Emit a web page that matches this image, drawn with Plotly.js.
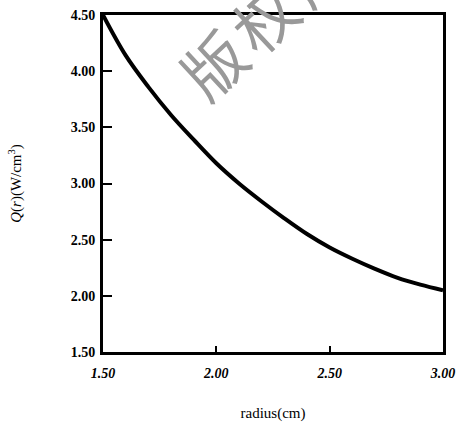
<!DOCTYPE html>
<html>
<head>
<meta charset="utf-8">
<script src="https://cdn.plot.ly/plotly-3.0.1.min.js"></script>
<style>body{margin:0;padding:0;background:#fff;}#chart{width:464px;height:423px;}</style>
</head>
<body>
<div id="chart"></div>
<script>
const radius = [1.50, 1.60, 1.70, 1.80, 1.90, 2.00, 2.10, 2.20, 2.30, 2.40, 2.50, 2.60, 2.70, 2.80, 2.90, 3.00];
const Q = [4.50, 4.14, 3.86, 3.61, 3.39, 3.18, 3.00, 2.84, 2.69, 2.55, 2.43, 2.33, 2.24, 2.16, 2.10, 2.05];
const xTickVals = [1.5, 2.0, 2.5, 3.0];
const xTickText = ['1.50', '2.00', '2.50', '3.00'];
const yTickVals = [1.5, 2.0, 2.5, 3.0, 3.5, 4.0, 4.5];
const yTickText = ['1.50', '2.00', '2.50', '3.00', '3.50', '4.00', '4.50'];
const watermark = ['版', '权', '所'];

const serif = 'Liberation Serif, DejaVu Serif, serif';
const wmPos = [[0.321, 0.858], [0.470, 0.995], [0.620, 1.135]];

const trace = {
  x: radius, y: Q, type: 'scatter', mode: 'lines',
  line: {color: '#000', width: 4, shape: 'spline'},
  hoverinfo: 'skip'
};

const layout = {
  width: 464, height: 423,
  margin: {l: 103, r: 21, t: 15, b: 71},
  paper_bgcolor: '#fff', plot_bgcolor: '#fff',
  showlegend: false,
  font: {family: serif, color: '#000'},
  xaxis: {
    range: [1.5, 3.0], tickvals: xTickVals, ticktext: xTickText,
    ticks: 'inside', ticklen: 6, tickwidth: 2, tickcolor: '#000',
    showline: true, linewidth: 3, linecolor: '#000', mirror: true,
    showgrid: false, zeroline: false, ticklabelstandoff: 6,
    tickfont: {family: serif, size: 14, color: '#000', style: 'italic', weight: 'bold'},
    title: {text: 'radius(cm)', font: {family: serif, size: 15, color: '#000'}, standoff: 28}
  },
  yaxis: {
    range: [1.5, 4.5], tickvals: yTickVals, ticktext: yTickText,
    ticks: 'inside', ticklen: 9, tickwidth: 2, tickcolor: '#000',
    showline: true, linewidth: 3, linecolor: '#000', mirror: true,
    showgrid: false, zeroline: false, ticklabelstandoff: 2,
    tickfont: {family: serif, size: 14, color: '#000', weight: 'bold'},
    title: {text: '<i>Q</i>(<i>r</i>)(W/cm<sup>3</sup>)', font: {family: serif, size: 15, color: '#000'}, standoff: 46}
  },
  annotations: watermark.map((ch, i) => ({
    text: ch, xref: 'paper', yref: 'paper', x: wmPos[i][0], y: wmPos[i][1],
    showarrow: false, textangle: -43,
    font: {family: 'Noto Sans CJK SC', size: 62, color: '#999'},
    xanchor: 'center', yanchor: 'middle'
  }))
};

Plotly.newPlot('chart', [trace], layout, {staticPlot: true, displayModeBar: false});
</script>
</body>
</html>
